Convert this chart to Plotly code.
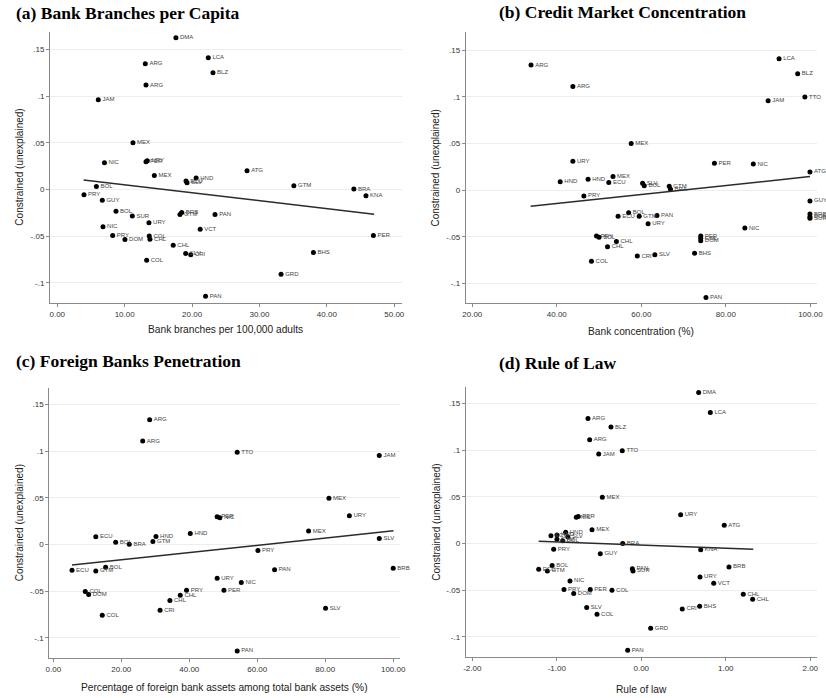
import plotly.graph_objects as go

W, H = 826, 698

# ---------------- data ----------------
a_labels = ["DMA","LCA","BLZ","ARG","ARG","JAM","MEX","NIC","URY","PER","MEX","ATG","HND","ECU","SLV",
            "BOL","PRY","GUY","BOL","SUR","URY","BRB","GTM","PAN","VCT","NIC","PRY","DOM","COL","CHL",
            "CHL","SLV","CRI","COL","BHS","GRD","PAN","PER","GTM","BRA","KNA"]
a_x = [17.6,22.4,23.1,13.06,13.16,6.08,11.23,7.0,13.35,13.16,14.4,28.15,20.6,19.1,19.25,
       5.8,3.96,6.68,8.71,11.13,13.6,18.46,18.2,23.4,21.2,6.78,8.22,10.04,13.65,13.75,
       17.2,19.05,19.8,13.26,38.0,33.2,22.0,46.9,35.1,44.0,45.8]
a_y = [0.1625,0.141,0.125,0.1346,0.1118,0.096,0.050,0.0285,0.0307,0.0296,0.015,0.020,0.0121,0.0089,0.0071,
       0.0032,-0.0058,-0.0115,-0.0233,-0.0286,-0.0358,-0.0247,-0.0268,-0.0268,-0.0426,-0.040,-0.0493,-0.0536,-0.050,-0.0533,
       -0.0597,-0.0686,-0.0701,-0.0758,-0.0675,-0.0908,-0.1144,-0.0493,0.0039,0.0003,-0.0069]
a_fit_x = [3.9, 47.0]
a_fit_y = [0.010, -0.0265]

b_labels = ["ARG","ARG","LCA","BLZ","JAM","TTO","MEX","URY","PER","NIC","ATG","HND","HND","MEX","ECU",
            "SLV","BOL","GTM","BRA","PRY","GUY","BOL","ECU","GTM","PAN","URY","BRB","DOM","SUR","NIC",
            "PRY","BOL","PER","COL","DOM","CHL","CHL","CRI","SLV","BHS","PAN","COL"]
b_x = [33.9,43.8,92.6,97.0,90.0,98.7,57.6,43.8,77.3,86.5,99.9,40.8,47.4,53.3,52.3,
       60.3,60.7,66.6,66.9,46.4,99.9,57.0,54.5,59.5,63.7,61.6,99.9,99.9,99.9,84.5,
       49.4,50.0,74.06,74.06,74.06,54.1,52.0,59.05,63.2,72.6,75.3,48.2]
b_y = [0.134,0.111,0.1407,0.1246,0.0957,0.0997,0.050,0.031,0.029,0.028,0.0196,0.0092,0.0118,0.0146,0.0082,
       0.0075,0.0049,0.0043,0.001,-0.0061,-0.0115,-0.024,-0.0279,-0.0279,-0.027,-0.036,-0.0255,-0.0285,-0.030,-0.0405,
       -0.049,-0.0504,-0.049,-0.0514,-0.054,-0.055,-0.0604,-0.0704,-0.069,-0.0675,-0.1147,-0.076]
b_fit_x = [33.8, 99.9]
b_fit_y = [-0.0172, 0.0146]

c_labels = ["ARG","ARG","TTO","JAM","MEX","URY","PER","NIC","MEX","SLV","ECU","BOL","BRA","HND","GTM",
            "HND","PRY","ECU","GTM","BOL","PAN","BRB","URY","NIC","COL","DOM","PRY","CHL","CHL","PER",
            "CRI","COL","SLV","PAN"]
c_x = [28.35,26.3,54.1,95.9,81.1,87.1,48.2,49.0,75.1,95.9,12.5,18.35,22.35,30.2,29.3,
       40.3,60.2,5.5,12.5,15.4,65.1,100.0,48.2,55.3,9.4,10.4,39.2,37.35,34.3,50.2,
       31.4,14.4,80.1,54.1]
c_y = [0.1337,0.1108,0.099,0.0954,0.0497,0.0308,0.0297,0.0286,0.0144,0.0064,0.0083,0.0025,0.0004,0.0086,0.0032,
       0.0118,-0.0064,-0.0274,-0.0282,-0.0242,-0.0271,-0.0253,-0.036,-0.0407,-0.0503,-0.0536,-0.049,-0.0542,-0.060,-0.049,
       -0.0703,-0.0757,-0.0682,-0.1139]
c_fit_x = [5.5, 100.1]
c_fit_y = [-0.0218, 0.0147]

d_labels = ["DMA","LCA","ARG","BLZ","ARG","JAM","TTO","MEX","NIC","PER","URY","ATG","MEX","HND","ECU",
            "HND","GTM","SLV","BOL","BRA","PRY","GUY","KNA","BRB","BOL","ECU","GTM","PAN","SUR","NIC",
            "PRY","DOM","PER","COL","SLV","COL","URY","VCT","CHL","CHL","CRI","BHS","GRD","PAN"]
d_x = [0.679,0.817,-0.631,-0.359,-0.611,-0.504,-0.225,-0.461,-0.769,-0.746,0.466,0.982,-0.583,-0.895,-1.069,
       -0.998,-0.998,-0.87,-0.93,-0.22,-1.037,-0.485,0.703,1.038,-1.055,-1.214,-1.112,-0.106,-0.098,-0.844,
       -0.915,-0.80,-0.604,-0.347,-0.646,-0.524,0.695,0.857,1.207,1.318,0.485,0.691,0.111,-0.161]
d_y = [0.1619,0.1404,0.134,0.1248,0.1111,0.0958,0.0994,0.0497,0.0283,0.029,0.0308,0.0197,0.0147,0.0122,0.0083,
       0.0093,0.0047,0.0072,0.0031,0.0,-0.006,-0.011,-0.0067,-0.025,-0.0236,-0.0275,-0.0293,-0.0271,-0.0293,-0.040,
       -0.0493,-0.0536,-0.0493,-0.050,-0.0686,-0.0757,-0.0357,-0.0425,-0.0542,-0.0596,-0.070,-0.0671,-0.0907,-0.1143]
d_fit_x = [-1.214, 1.325]
d_fit_y = [0.0026, -0.006]

y_tickvals = [-0.1, -0.05, 0, 0.05, 0.1, 0.15]
y_ticktext = ["-.1", "-.05", "0", ".05", ".1", ".15"]
a_xticks = [0, 10, 20, 30, 40, 50]
b_xticks = [20, 40, 60, 80, 100]
c_xticks = [0, 20, 40, 60, 80, 100]
d_xticks = [-2, -1, 0, 1, 2]

titles = ["(a) Bank Branches per Capita", "(b) Credit Market Concentration",
          "(c) Foreign Banks Penetration", "(d) Rule of Law"]
xtitles = ["Bank branches per 100,000 adults", "Bank concentration (%)",
           "Percentage of foreign bank assets among total bank assets (%)", "Rule of law"]
ytitle = "Constrained (unexplained)"

# ---------------- layout geometry (pixels) ----------------
geo = [
    dict(l=50, r=401.7, t=32, b=303.3, xr=[-1.08, 51.1], yr=[-0.122, 0.1686], xt=a_xticks,
         title_xy=(14, 12.5), xtitle_y=330),
    dict(l=465.7, r=816.7, t=32.3, b=303.3, xr=[18.44, 101.5], yr=[-0.121, 0.169], xt=b_xticks,
         title_xy=(497, 12), xtitle_y=331.5),
    dict(l=49.3, r=400, t=387.7, b=658.3, xr=[-1.18, 102.0], yr=[-0.1218, 0.168], xt=c_xticks,
         title_xy=(14, 361), xtitle_y=687.5),
    dict(l=465.7, r=816.7, t=386.7, b=657.3, xr=[-2.078, 2.076], yr=[-0.1218, 0.168], xt=d_xticks,
         title_xy=(497, 363), xtitle_y=689),
]

series = [(a_labels, a_x, a_y, a_fit_x, a_fit_y),
          (b_labels, b_x, b_y, b_fit_x, b_fit_y),
          (c_labels, c_x, c_y, c_fit_x, c_fit_y),
          (d_labels, d_x, d_y, d_fit_x, d_fit_y)]


def fx(px):
    return px / W


def fy(py):
    return 1 - py / H


fig = go.Figure()
annotations = []
layout_axes = {}

axis_col = "#8a8a8a"
tick_font = dict(family="Liberation Sans, Arial, sans-serif", size=8, color="#333333")

for i, (g, s) in enumerate(zip(geo, series)):
    n = "" if i == 0 else str(i + 1)
    xa, ya = "x" + n, "y" + n
    labels, xs, ys, fxs, fys = s
    fig.add_trace(go.Scatter(
        x=xs, y=ys, text=labels, mode="markers+text", xaxis=xa, yaxis=ya,
        textposition="middle right",
        textfont=dict(family="Liberation Sans, Arial, sans-serif", size=6, color="#444444"),
        marker=dict(color="black", size=5), showlegend=False, cliponaxis=False,
        hoverinfo="skip"))
    fig.add_trace(go.Scatter(
        x=fxs, y=fys, mode="lines", xaxis=xa, yaxis=ya,
        line=dict(color="#2b2b2b", width=1.5), showlegend=False, hoverinfo="skip"))

    layout_axes["xaxis" + n] = dict(
        domain=[fx(g["l"]), min(1.0, fx(g["r"]))], range=g["xr"], anchor=ya,
        showline=True, linecolor=axis_col, linewidth=1, mirror=False,
        ticks="outside", ticklen=3, tickcolor=axis_col, tickwidth=1,
        tickvals=g["xt"], ticktext=["%.2f" % v for v in g["xt"]], automargin=False,
        tickfont=tick_font, showgrid=False, zeroline=False, fixedrange=True)
    layout_axes["yaxis" + n] = dict(
        domain=[fy(g["b"]), fy(g["t"])], range=g["yr"], anchor=xa,
        showline=True, linecolor=axis_col, linewidth=1, mirror=False,
        ticks="outside", ticklen=3, tickcolor=axis_col, tickwidth=1, automargin=False,
        tickvals=y_tickvals, ticktext=y_ticktext, tickfont=tick_font,
        showgrid=True, gridcolor="#ededed", gridwidth=1, zeroline=False, fixedrange=True)

    tx, ty = g["title_xy"]
    annotations.append(dict(
        text="<b>" + titles[i] + "</b>", x=fx(tx), y=fy(ty), xref="paper", yref="paper",
        xanchor="left", yanchor="middle", showarrow=False,
        font=dict(family="Liberation Serif, Times New Roman, serif", size=17.5, color="black")))
    annotations.append(dict(
        text=xtitles[i], x=fx((g["l"] + g["r"]) / 2), y=fy(g["xtitle_y"]),
        xref="paper", yref="paper", xanchor="center", yanchor="middle", showarrow=False,
        font=dict(family="Liberation Sans, Arial, sans-serif", size=10.2, color="#222222")))
    annotations.append(dict(
        text=ytitle, x=fx(g["l"] - 30), y=fy((g["t"] + g["b"]) / 2),
        xref="paper", yref="paper", xanchor="center", yanchor="middle", textangle=-90,
        showarrow=False,
        font=dict(family="Liberation Sans, Arial, sans-serif", size=10, color="#222222")))

fig.update_layout(
    width=W, height=H, margin=dict(l=0, r=0, t=0, b=0, autoexpand=False),
    paper_bgcolor="white", plot_bgcolor="white", hovermode=False,
    annotations=annotations, **layout_axes)

# the page body keeps a default 8px margin; drop it so the figure starts at the page corner
fig.write_html("out.html", config={"displayModeBar": False, "staticPlot": True},
               post_script="document.body.style.margin='0px';")
